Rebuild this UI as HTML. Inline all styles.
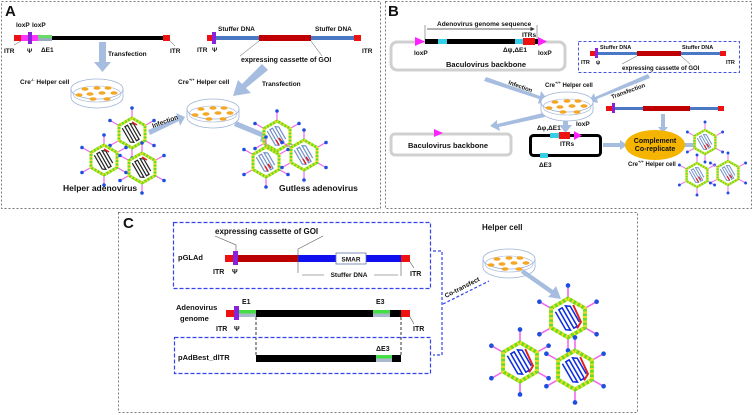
<!DOCTYPE html>
<html><head><meta charset="utf-8"><style>
html,body{margin:0;padding:0;background:#fff}
svg{display:block}
text{font-family:"Liberation Sans",Arial,sans-serif;font-weight:bold;fill:#111}
</style></head><body>
<svg width="754" height="415" viewBox="0 0 754 415" xmlns="http://www.w3.org/2000/svg">
<defs>
<marker id="ah" markerWidth="6" markerHeight="6" refX="5" refY="3" orient="auto"><path d="M0,0L6,3L0,6z" fill="#333"/></marker>
<g id="dish">
  <ellipse cx="0" cy="5" rx="26" ry="11" fill="#fff" stroke="#9fb4d6" stroke-width=".8"/>
  <rect x="-26" y="-3" width="52" height="8" fill="#fff"/>
  <line x1="-26" y1="-3" x2="-26" y2="5" stroke="#9fb4d6" stroke-width=".8"/>
  <line x1="26" y1="-3" x2="26" y2="5" stroke="#9fb4d6" stroke-width=".8"/>
  <ellipse cx="0" cy="-3" rx="26" ry="10" fill="#fff" stroke="#9fb4d6" stroke-width=".8"/>
  <ellipse cx="0" cy="2" rx="24" ry="8" fill="none" stroke="#9fb4d6" stroke-width=".6"/>
  <g fill="#f5a623">
   <ellipse cx="-12" cy="-3" rx="3.5" ry="1.8"/><ellipse cx="0" cy="-4" rx="3.5" ry="1.8"/><ellipse cx="11" cy="-4" rx="3.5" ry="1.8"/>
   <ellipse cx="-18" cy="3" rx="3.5" ry="1.8"/><ellipse cx="-7" cy="2" rx="3.5" ry="1.8"/><ellipse cx="5" cy="1" rx="3.5" ry="1.8"/><ellipse cx="17" cy="1" rx="3.5" ry="1.8"/>
   <ellipse cx="-4" cy="7" rx="3.5" ry="1.8"/><ellipse cx="10" cy="7" rx="3.5" ry="1.8"/>
  </g>
</g>
<g id="vshell">
  <g stroke="#ee66ee" stroke-width="1.2">
   <line x1="0" y1="-15" x2="0" y2="-24"/><line x1="0" y1="15" x2="0" y2="24"/>
   <line x1="13" y1="-7.5" x2="21" y2="-12"/><line x1="-13" y1="-7.5" x2="-21" y2="-12"/>
   <line x1="13" y1="7.5" x2="21" y2="12"/><line x1="-13" y1="7.5" x2="-21" y2="12"/>
  </g>
  <g fill="#1f4fe0">
   <circle cx="0" cy="-25" r="1.8"/><circle cx="0" cy="25" r="1.8"/><circle cx="22" cy="-12.5" r="1.8"/><circle cx="-22" cy="-12.5" r="1.8"/><circle cx="22" cy="12.5" r="1.8"/><circle cx="-22" cy="12.5" r="1.8"/>
  </g>
  <polygon points="0,-15 13,-7.5 13,7.5 0,15 -13,7.5 -13,-7.5" fill="#fff" stroke="#66dd22" stroke-width="3"/>
  <polygon points="0,-15 13,-7.5 13,7.5 0,15 -13,7.5 -13,-7.5" fill="none" stroke="#eedd22" stroke-width="3" stroke-dasharray="1.5 2"/>
</g>
<path id="serp" d="M-6,-9 L-6,7 L-3,9 L-3,-9 L0,-9 L0,9 L3,9 L3,-9 L6,-7 L6,7" fill="none" stroke-width="1.2" transform="rotate(-30)"/>
<g id="vhelper"><use href="#vshell"/><use href="#serp" stroke="#222"/><line x1="0" y1="-11" x2="5" y2="-8" stroke="#e02020" stroke-width="1.5"/></g>
<g id="vgut"><use href="#vshell"/><use href="#serp" stroke="#7090c8"/><path d="M2,2 L5,6 M-1,4 L2,9" stroke="#e02020" stroke-width="1.5"/></g>
<g id="vc"><use href="#vshell"/><use href="#serp" stroke="#1030e0"/><path d="M4,-10 L10,3 L7,8" stroke="#e02020" stroke-width="1.5" fill="none"/></g>
</defs>

<rect x="1.5" y="1.5" width="379" height="207" fill="none" stroke="#777" stroke-dasharray="2 2"/>
<rect x="385.5" y="1.5" width="366" height="207" fill="none" stroke="#777" stroke-dasharray="2 2"/>
<rect x="118.5" y="212.5" width="519" height="200" fill="none" stroke="#777" stroke-dasharray="2 2"/>

<!-- ===== A ===== -->
<text x="5" y="16" font-size="15">A</text>
<g>
 <rect x="14" y="35" width="7" height="6" fill="#ee1111"/>
 <rect x="21" y="35" width="17" height="6" fill="#ff33ff"/>
 <rect x="28" y="32" width="4" height="12" fill="#8822dd"/>
 <rect x="38" y="35" width="14" height="6" fill="#66dd66"/><rect x="38" y="38" width="14" height="3" fill="#9ab"/>
 <rect x="52" y="36" width="111" height="4" fill="#000"/>
 <rect x="163" y="35" width="7" height="6" fill="#ee1111"/>
</g>
<g font-size="6.5">
 <text x="16" y="27">loxP</text><text x="32" y="27">loxP</text>
 <text x="4" y="53">ITR</text><text x="27" y="53">Ψ</text><text x="41" y="52">ΔE1</text><text x="170" y="53">ITR</text>
</g>
<line x1="21" y1="41" x2="14" y2="45" stroke="#555" stroke-width=".5"/>
<line x1="170" y1="41" x2="175" y2="46" stroke="#555" stroke-width=".5"/>
<g>
 <rect x="207" y="35" width="6" height="6" fill="#ee1111"/>
 <rect x="212" y="32" width="4" height="12" fill="#8822dd"/>
 <rect x="216" y="36" width="43" height="4" fill="#4a78c4"/>
 <rect x="259" y="35" width="52" height="6" fill="#c00000"/>
 <rect x="311" y="36" width="43" height="4" fill="#4a78c4"/>
 <rect x="354" y="35" width="7" height="6" fill="#ee1111"/>
</g>
<g font-size="6.5">
 <text x="218" y="31">Stuffer DNA</text><text x="315" y="31">Stuffer DNA</text>
 <text x="197" y="52">ITR</text><text x="212" y="52">Ψ</text><text x="362" y="53">ITR</text>
 <text x="241" y="62" font-size="7">expressing cassette of GOI</text>
</g>
<line x1="259" y1="41" x2="240" y2="56" stroke="#555" stroke-width=".5"/>
<line x1="311" y1="41" x2="322" y2="56" stroke="#555" stroke-width=".5"/>
<g fill="#a6bde0">
 <rect x="99" y="42" width="7" height="20"/><polygon points="94,62 111,62 102.5,72"/>
 <polygon points="262,64 268,70 246,88 251,93 233,96 238,80 242,84"/>
 <polygon points="148,130 178,118 176,113 185,117 180,126 179,121 150,135"/>
 <polygon points="236,121 262,132 264,127 272,138 260,142 261,137 234,126"/>
</g>
<g font-size="6.5">
 <text x="108" y="56" font-weight="normal">Transfection</text>
 <text x="262" y="86" font-weight="normal">Transfection</text>
 <text x="20" y="84">Cre<tspan font-size="4" dy="-3">-/-</tspan><tspan dy="3"> Helper cell</tspan></text>
 <text x="178" y="84">Cre<tspan font-size="4" dy="-3">+/+</tspan><tspan dy="3"> Helper cell</tspan></text>
 <text x="153" y="128" transform="rotate(-20 153 128)">Infection</text>
</g>
<use href="#dish" x="97" y="92"/>
<use href="#dish" x="213" y="112"/>
<use href="#vhelper" x="132" y="133"/>
<use href="#vhelper" x="104" y="160"/>
<use href="#vhelper" x="142" y="168"/>
<use href="#vgut" x="277" y="136"/>
<use href="#vgut" x="266" y="162"/>
<use href="#vgut" x="304" y="155"/>
<text x="63" y="191" font-size="8.5">Helper adenovirus</text>
<text x="279" y="191" font-size="8.5">Gutless adenovirus</text>

<!-- ===== B ===== -->
<text x="388" y="16" font-size="15">B</text>
<line x1="425" y1="25" x2="425" y2="40" stroke="#444" stroke-width=".5"/>
<line x1="537" y1="25" x2="537" y2="40" stroke="#444" stroke-width=".5"/>
<line x1="427" y1="29" x2="534" y2="29" stroke="#333" stroke-width=".7" marker-end="url(#ah)"/>
<text x="437" y="26" font-size="6.5">Adenovirus genome sequence</text>
<rect x="391" y="42" width="174" height="28" rx="6" fill="none" stroke="#d0d0d0" stroke-width="3"/>
<rect x="425" y="39" width="113" height="5" fill="#000"/>
<rect x="438" y="39" width="9" height="5" fill="#33d0e8"/>
<rect x="515" y="39" width="8" height="5" fill="#33d0e8"/>
<rect x="523" y="38" width="12" height="7" fill="#ee1111"/>
<polygon points="415,37 425,41.5 415,46" fill="#ff22ff"/>
<polygon points="538,37 547,41.5 538,46" fill="#ff22ff"/>
<g font-size="6.5">
 <text x="522" y="37">ITRs</text><text x="414" y="55">loxP</text><text x="503" y="52">Δψ,ΔE1</text><text x="538" y="55">loxP</text>
 <text x="446" y="67" font-size="7.5">Baculovirus backbone</text>
</g>
<rect x="578.5" y="41.5" width="161" height="31" fill="none" stroke="#4455dd" stroke-dasharray="3 2"/>
<rect x="590" y="51" width="6" height="5" fill="#ee1111"/>
<rect x="595" y="48" width="3" height="10" fill="#8822dd"/>
<rect x="598" y="52" width="39" height="3" fill="#4a78c4"/>
<rect x="637" y="51" width="44" height="5" fill="#c00000"/>
<rect x="681" y="52" width="39" height="3" fill="#4a78c4"/>
<rect x="720" y="51" width="6" height="5" fill="#ee1111"/>
<g font-size="5.5">
 <text x="600" y="49">Stuffer DNA</text><text x="682" y="49">Stuffer DNA</text>
 <text x="581" y="64">ITR</text><text x="596" y="64">ψ</text><text x="726" y="64">ITR</text>
 <text x="622" y="70" font-size="6">expressing cassette of GOI</text>
</g>
<line x1="637" y1="56" x2="622" y2="64" stroke="#555" stroke-width=".5"/>
<line x1="681" y1="56" x2="690" y2="64" stroke="#555" stroke-width=".5"/>
<g fill="#a6bde0">
 <polygon points="486,77 540,96 541,91 548,100 538,104 539,99 484,81"/>
 <polygon points="648,74 650,78 597,99 598,103 589,101 594,93 595,97"/>
 <polygon points="543,113 545,117 499,127 500,131 490,126 497,120 497,124"/>
 <rect x="563" y="114" width="5" height="12"/><polygon points="559,125 572,125 565.5,133"/>
 <rect x="661" y="114" width="4" height="14"/><polygon points="658,127 668,127 663,133"/>
 <rect x="603" y="143" width="18" height="4"/><polygon points="620,140 627,145 620,150"/>
 <rect x="684" y="143" width="10" height="4"/><polygon points="693,140 700,145 693,150"/>
</g>
<g font-size="6">
 <text x="508" y="84" transform="rotate(20 508 84)">Infection</text>
 <text x="612" y="99" transform="rotate(-20 612 99)">Transfection</text>
 <text x="545" y="87">Cre<tspan font-size="4" dy="-3">+/+</tspan><tspan dy="3"> Helper cell</tspan></text>
</g>
<use href="#dish" x="567" y="105"/>
<rect x="606" y="106" width="6" height="5" fill="#ee1111"/>
<rect x="612" y="103" width="3" height="10" fill="#8822dd"/>
<rect x="615" y="107" width="28" height="3" fill="#4a78c4"/>
<rect x="643" y="106" width="47" height="5" fill="#c00000"/>
<rect x="690" y="107" width="28" height="3" fill="#4a78c4"/>
<rect x="718" y="106" width="6" height="5" fill="#ee1111"/>
<rect x="391" y="134" width="120" height="21" rx="4" fill="none" stroke="#d0d0d0" stroke-width="3"/>
<polygon points="434,129 443,133 434,137" fill="#ff22ff"/>
<text x="408" y="148" font-size="7.5">Baculovirus backbone</text>
<rect x="530.5" y="135.5" width="70" height="20" rx="3" fill="none" stroke="#000" stroke-width="3"/>
<rect x="550" y="133" width="9" height="5" fill="#33d0e8"/>
<rect x="559" y="132" width="11" height="7" fill="#ee1111"/>
<polygon points="574,131 582,135.5 574,140" fill="#ff22ff"/>
<rect x="540" y="153" width="8" height="5" fill="#33d0e8"/>
<g font-size="6.5">
 <text x="537" y="130">Δφ,ΔE1</text><text x="576" y="126">loxP</text><text x="560" y="146">ITRs</text><text x="539" y="167">ΔE3</text>
</g>
<ellipse cx="655" cy="145" rx="30" ry="15" fill="#f5b400"/>
<text x="655" y="143" font-size="7" text-anchor="middle">Complement</text>
<text x="655" y="151" font-size="7" text-anchor="middle">Co-replicate</text>
<text x="628" y="166" font-size="6">Cre<tspan font-size="4" dy="-3">+/+</tspan><tspan dy="3"> Helper cell</tspan></text>
<use href="#vgut" transform="translate(705,142) scale(.8)"/>
<use href="#vgut" transform="translate(697,175) scale(.8)"/>
<use href="#vgut" transform="translate(728,173) scale(.8)"/>

<!-- ===== C ===== -->
<text x="123" y="228" font-size="15">C</text>
<rect x="173.5" y="222.5" width="257" height="66" fill="none" stroke="#3344ee" stroke-dasharray="4 2" stroke-width="1.2"/>
<rect x="225" y="255" width="8" height="7" fill="#ee1111"/>
<rect x="233" y="251" width="5" height="14" fill="#8822dd"/>
<rect x="238" y="255" width="60" height="7" fill="#bb0000"/>
<rect x="298" y="255" width="103" height="7" fill="#1010ee"/>
<rect x="336" y="253" width="30" height="11" fill="#fff" stroke="#6677aa" stroke-width=".8"/>
<text x="351" y="261.5" font-size="6.5" text-anchor="middle" font-weight="normal">SMAR</text>
<rect x="401" y="255" width="9" height="7" fill="#ee1111"/>
<text x="178" y="260" font-size="7.5">pGLAd</text>
<text x="215" y="234" font-size="8">expressing cassette of GOI</text>
<polyline points="215,236 236,245 236,251" fill="none" stroke="#555" stroke-width=".6"/>
<polyline points="323,236 298,249 298,273" fill="none" stroke="#555" stroke-width=".6"/>
<line x1="401" y1="262" x2="401" y2="276" stroke="#555" stroke-width=".6"/>
<line x1="302" y1="275" x2="324" y2="275" stroke="#555" stroke-width=".6"/>
<line x1="374" y1="275" x2="398" y2="275" stroke="#555" stroke-width=".6"/>
<text x="349" y="277" font-size="6.5" text-anchor="middle" font-weight="normal">Stuffer DNA</text>
<text x="213" y="274" font-size="7">ITR</text><text x="232" y="274" font-size="7">Ψ</text>
<text x="410" y="276" font-size="7">ITR</text>
<line x1="410" y1="262" x2="414" y2="268" stroke="#555" stroke-width=".6"/>
<text x="176" y="310" font-size="7.5">Adenovirus</text>
<text x="180" y="321" font-size="7.5">genome</text>
<rect x="226" y="310" width="8" height="7" fill="#ee1111"/>
<rect x="234" y="306" width="5" height="14" fill="#8822dd"/>
<rect x="239" y="310" width="17" height="3.5" fill="#44dd44"/><rect x="239" y="313.5" width="17" height="3.5" fill="#aab8cc"/>
<rect x="256" y="310" width="117" height="7" fill="#000"/>
<rect x="373" y="310" width="17" height="3.5" fill="#44dd44"/><rect x="373" y="313.5" width="17" height="3.5" fill="#aab8cc"/>
<rect x="390" y="310" width="11" height="7" fill="#000"/>
<rect x="401" y="310" width="9" height="7" fill="#ee1111"/>
<text x="242" y="304" font-size="7">E1</text><text x="376" y="304" font-size="7">E3</text>
<text x="216" y="331" font-size="7">ITR</text><text x="234" y="331" font-size="7">Ψ</text><text x="413" y="331" font-size="7">ITR</text>
<line x1="410" y1="317" x2="414" y2="324" stroke="#555" stroke-width=".6"/>
<line x1="256" y1="317" x2="256" y2="355" stroke="#333" stroke-dasharray="3 2"/>
<line x1="401" y1="317" x2="401" y2="355" stroke="#333" stroke-dasharray="3 2"/>
<rect x="174.5" y="337.5" width="256" height="36" fill="none" stroke="#3344ee" stroke-dasharray="4 2" stroke-width="1.2"/>
<rect x="256" y="355" width="120" height="7" fill="#000"/>
<rect x="376" y="355" width="16" height="3.5" fill="#44dd44"/><rect x="376" y="358.5" width="16" height="3.5" fill="#aab8cc"/>
<rect x="392" y="355" width="9" height="7" fill="#000"/>
<text x="376" y="351" font-size="7">ΔE3</text>
<text x="178" y="360" font-size="7.5">pAdBest_dlTR</text>
<polyline points="433,251 442,251 442,355 433,355" fill="none" stroke="#3344ee" stroke-dasharray="3 2" stroke-width="1.2"/>
<line x1="443" y1="304" x2="489" y2="281" stroke="#3344ee" stroke-dasharray="3 2" stroke-width="1.2"/>
<text x="446" y="298" font-size="6.5" transform="rotate(-27 446 298)">Co-transfect</text>
<text x="482" y="230" font-size="8">Helper cell</text>
<use href="#dish" x="509" y="262"/>
<polygon points="523,269 553,290 556,286 561,299 548,297 551,294 521,273" fill="#a6bde0"/>
<use href="#vc" transform="translate(568,318) scale(1.3)"/>
<use href="#vc" transform="translate(520,362) scale(1.3)"/>
<use href="#vc" transform="translate(575,370) scale(1.3)"/>
</svg>
</body></html>
